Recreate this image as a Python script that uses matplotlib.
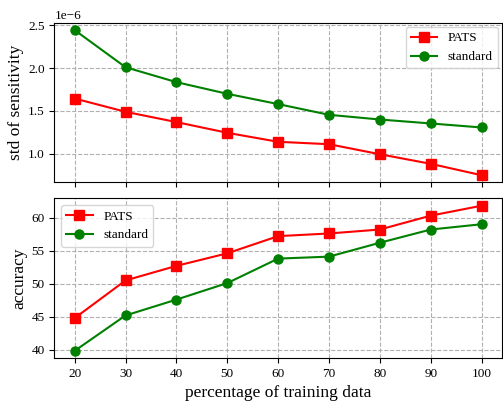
import numpy as np
import matplotlib
matplotlib.use("Agg")
import matplotlib.pyplot as plt

plt.rcParams['font.family'] = ['Liberation Serif', 'DejaVu Serif']
plt.rcParams['mathtext.fontset'] = 'stix'

# data
pct = [20, 30, 40, 50, 60, 70, 80, 90, 100]
std_pats = np.array([1.645, 1.49, 1.37, 1.245, 1.14, 1.112, 0.995, 0.883, 0.75]) * 1e-6
std_standard = np.array([2.443, 2.01, 1.836, 1.70, 1.58, 1.455, 1.40, 1.354, 1.307]) * 1e-6
acc_pats = [44.8, 50.5, 52.7, 54.6, 57.2, 57.6, 58.2, 60.3, 61.8]
acc_standard = [39.85, 45.2, 47.6, 50.1, 53.8, 54.1, 56.2, 58.2, 59.0]

fig, (ax1, ax2) = plt.subplots(2, 1, sharex=True, figsize=(5.03, 4.01), dpi=100)
fig.subplots_adjust(left=0.108, right=0.998, top=0.943, bottom=0.107, hspace=0.1)

for ax, a, b in [(ax1, std_pats, std_standard), (ax2, acc_pats, acc_standard)]:
    ax.plot(pct, a, color='red', marker='s', markersize=6.5, linewidth=1.5, label='PATS')
    ax.plot(pct, b, color='green', marker='o', markersize=6.5, linewidth=1.5, label='standard')
    ax.grid(True, linestyle='--', color='#b0b0b0', linewidth=0.8)
    ax.tick_params(labelsize=9.5)

ax1.set_ylabel('std of sensitivity', fontsize=12.5, labelpad=3)
ax1.legend(loc='upper right', fontsize=9.5, borderaxespad=0.3)
ax1.yaxis.get_offset_text().set_fontsize(9.5)

ax2.set_ylabel('accuracy', fontsize=12.5, labelpad=3)
ax2.set_xlabel('percentage of training data', fontsize=12.5)
ax2.set_xticks(pct)
ax2.legend(loc='upper left', fontsize=9.5)

fig.savefig('out.png', dpi=100)
